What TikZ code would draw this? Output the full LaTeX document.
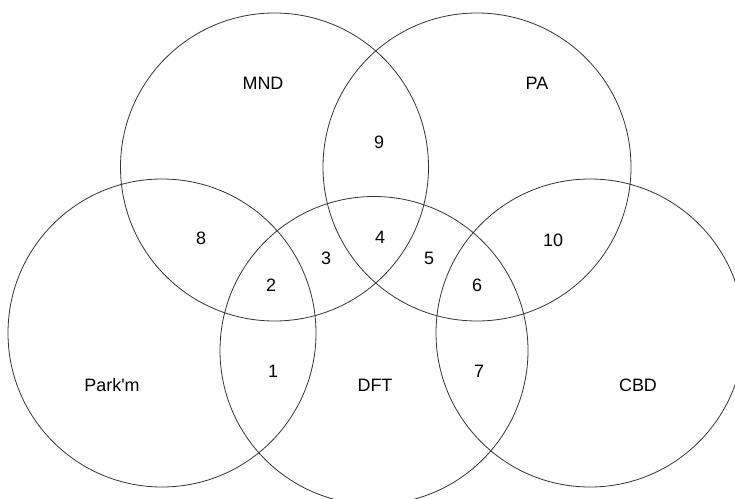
\documentclass[tikz,border=0pt]{standalone}
\usepackage{fontspec}
\setmainfont{Liberation Sans}
\begin{document}
\begin{tikzpicture}[x=1bp,y=-1bp,
  ring/.style={draw=black!80,line width=0.8bp,circle,minimum size=308bp,inner sep=0pt},
  lab/.style={font=\fontsize{18}{20}\selectfont,inner sep=0pt}]
\useasboundingbox (0,0) rectangle (735,499);
\clip (0,0) rectangle (735,499);
\node[ring] (mnd) at (274.5,167) {};
\node[ring] (pa) at (477,167) {};
\node[ring] (park) at (162,333) {};
\node[ring] (dft) at (374,350.5) {};
\node[ring] (cbd) at (590,333) {};
\node[lab] (lmnd) at (263,83) {MND};
\node[lab] (lpa) at (537,83) {PA};
\node[lab] (l9) at (379,142) {9};
\node[lab] (l8) at (201,238) {8};
\node[lab] (l3) at (326,258) {3};
\node[lab] (l4) at (380,237) {4};
\node[lab] (l5) at (429,258) {5};
\node[lab] (l10) at (553,240) {10};
\node[lab] (l2) at (271,285) {2};
\node[lab] (l6) at (477,285) {6};
\node[lab] (lpark) at (112,385) {Park\textquotesingle m};
\node[lab] (l1) at (273,371) {1};
\node[lab] (ldft) at (375,385) {DFT};
\node[lab] (l7) at (479,371) {7};
\node[lab] (lcbd) at (638,385) {CBD};
\end{tikzpicture}
\end{document}
